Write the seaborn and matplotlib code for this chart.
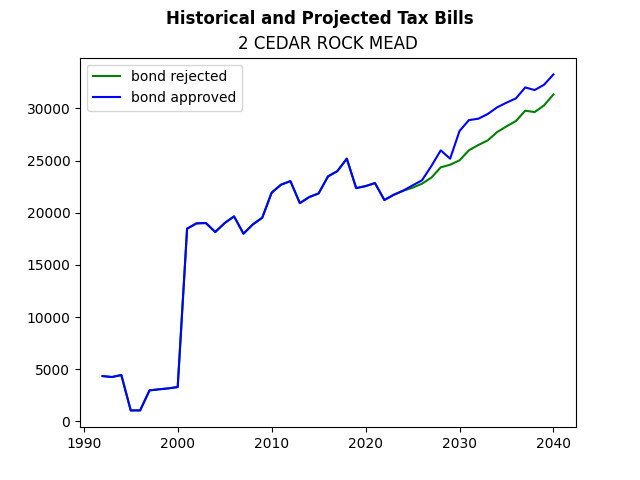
import numpy as np
import pandas as pd
import seaborn as sns
import matplotlib
matplotlib.use("Agg")
import matplotlib.pyplot as plt

years = list(range(1992, 2041))

history = [4340, 4250, 4440, 1050, 1050, 2970, 3070, 3160, 3290,
           18470, 18980, 19010, 18150, 19010, 19650, 17990, 18880, 19520,
           21920, 22690, 23030, 20920, 21500, 21850, 23480, 23990, 25180,
           22360, 22550, 22840, 21220, 21720, 22110]

rejected_proj = [22400, 22780, 23360, 24350, 24600, 25020, 25980, 26490,
                 26930, 27730, 28280, 28790, 29780, 29650, 30290, 31340]
approved_proj = [22620, 23100, 24470, 25980, 25180, 27830, 28880, 29010,
                 29460, 30100, 30550, 30960, 32010, 31760, 32270, 33260]

bond_rejected = history + rejected_proj
bond_approved = history + approved_proj

df = pd.DataFrame({"year": years,
                   "bond rejected": bond_rejected,
                   "bond approved": bond_approved})

fig, ax = plt.subplots(figsize=(6.4, 4.8), dpi=100)
sns.lineplot(data=df, x="year", y="bond rejected", color="green",
             label="bond rejected", ax=ax)
sns.lineplot(data=df, x="year", y="bond approved", color="blue",
             label="bond approved", ax=ax)
ax.set_xlabel("")
ax.set_ylabel("")
ax.set_title("2 CEDAR ROCK MEAD")
fig.suptitle("Historical and Projected Tax Bills", fontweight="bold")
ax.legend(loc="upper left")
fig.savefig("out.png")
